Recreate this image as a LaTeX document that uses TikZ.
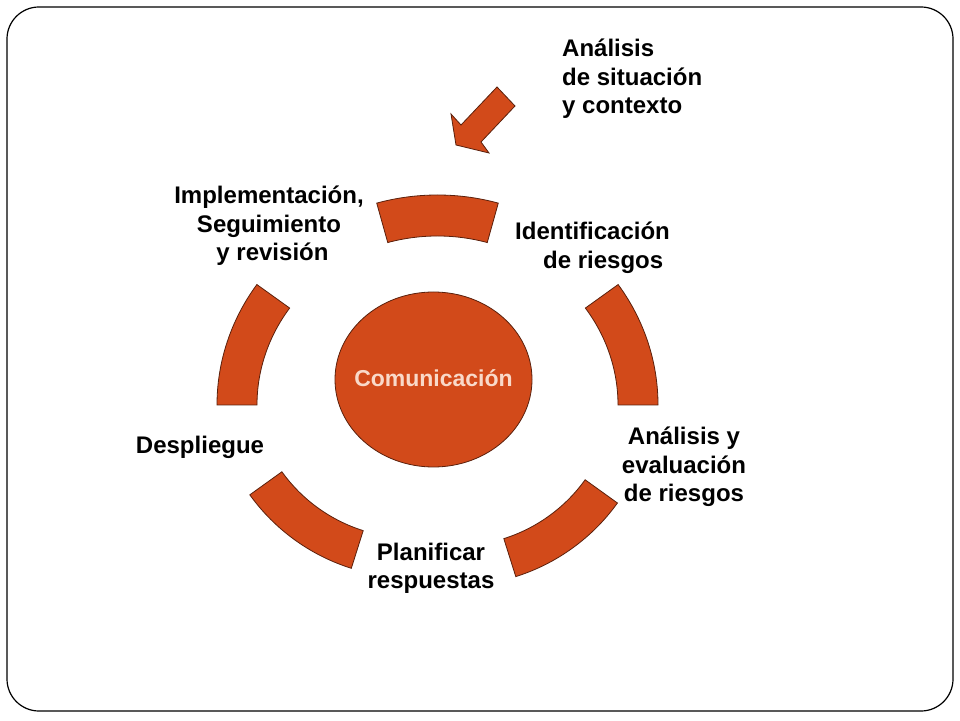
\documentclass[tikz,border=0pt]{standalone}
\usepackage{fontspec}
\setmainfont{Liberation Sans}
\usetikzlibrary{shapes.geometric}
\definecolor{arcfill}{HTML}{D24A1A}
\definecolor{arcline}{HTML}{5A200C}
\definecolor{comtext}{HTML}{F9D9C9}
\begin{document}
\begin{tikzpicture}[x=1pt,y=1pt,
    every node/.style={font=\fontsize{24}{28.5}\selectfont\bfseries, inner sep=0pt},
    blockarc/.style={fill=arcfill, draw=arcline, line width=0.8pt}]
\def\ringseg#1#2#3#4{\draw[blockarc] (#1:#3) arc (#1:#2:#3) -- (#2:#4) arc (#2:#1:#4) -- cycle;}
\useasboundingbox (0,0) rectangle (960,720);
\draw[line width=1.2pt, rounded corners=32pt] (7,9) rectangle (953,713);
        \begin{scope}[shift={(437.5,315)}]
            \ringseg{74}{106}{220.5 and 210}{180.5 and 169}
            \ringseg{145}{180}{220.5 and 210}{180.5 and 169}
            \ringseg{0}{35}{220.5 and 210}{180.5 and 169}
        \end{scope}
        \begin{scope}[shift={(411,341)}]
            \ringseg{215.7}{252.5}{198.5}{159}
        \end{scope}
        \begin{scope}[shift={(456,333)}]
            \ringseg{287.5}{324.3}{198.8}{159}
        \end{scope}
\draw[blockarc] (497,633) -- (515,614) -- (481,578) -- (489,567) -- (456,575) -- (451,606) -- (461,595) -- cycle;
\node[ellipse, blockarc, minimum width=197pt, minimum height=175pt] (comun) at (433.5,340.5) {};
\node[text=comtext, font=\fontsize{23}{28}\selectfont\bfseries, yshift=1pt] (comtxt) at (comun) {Comunicación};
\node[anchor=base west, align=left] (anal) at (562,606) {Análisis\\de situación\\y contexto};
\node[anchor=base west, align=left] (ident) at (515,451.5) {Identificación\\\hspace*{28pt}de riesgos};
\node[anchor=base, align=center] (impl) at (269,459) {Implementación,\\Seguimiento\\\hspace*{7pt}y revisión};
\node[anchor=base] (despl) at (200,266) {Despliegue};
\node[anchor=base, align=center] (evalr) at (684,218) {Análisis y\\evaluación\\de riesgos};
\node[anchor=base, align=center] (planif) at (431,131.5) {Planificar\\respuestas};
\end{tikzpicture}
\end{document}
